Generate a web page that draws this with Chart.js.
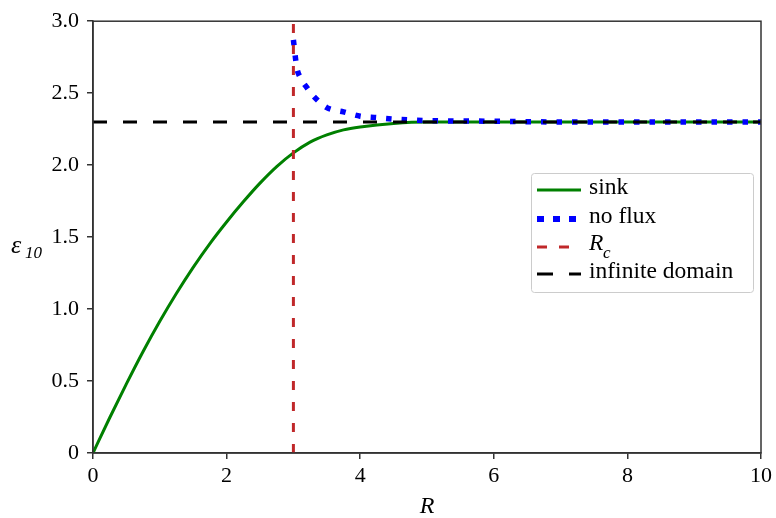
<!DOCTYPE html>
<html>
<head>
<meta charset="utf-8">
<script src="https://cdn.jsdelivr.net/npm/chart.js@4/dist/chart.umd.min.js"></script>
<style>
  html, body { margin: 0; padding: 0; background: #fff; }
  #wrap { width: 776px; height: 518px; }
</style>
</head>
<body>
<div id="wrap"><canvas id="plot"></canvas></div>
<script>
// values
var sinkR = [0, 0.25, 0.5, 0.75, 1, 1.25, 1.5, 1.75, 2, 2.25, 2.5, 2.75, 3, 3.25, 3.5, 3.75, 4, 4.5, 5, 6, 7, 8, 9, 10];
var sinkE = [0, 0.245, 0.48, 0.705, 0.915, 1.11, 1.29, 1.455, 1.605, 1.745, 1.875, 1.99, 2.085, 2.16, 2.21, 2.245, 2.265, 2.29, 2.30, 2.30, 2.30, 2.30, 2.30, 2.30];
var fluxR = [3.0, 3.05, 3.1, 3.2, 3.3, 3.5, 3.75, 4, 4.25, 4.5, 5, 6, 7, 8, 9, 10];
var fluxE = [2.87, 2.68, 2.61, 2.54, 2.48, 2.40, 2.37, 2.34, 2.33, 2.32, 2.31, 2.305, 2.30, 2.30, 2.30, 2.30];
var rcR = [3, 3];
var rcE = [0, 3];
var infR = [0, 10];
var infE = [2.30, 2.30];
var legendLabels = ["sink", "no flux", "R_c", "infinite domain"];

function pts(xs, ys) {
    return xs.map(function (x, i) { return { x: x, y: ys[i] }; });
}

var serif = "'Liberation Serif', 'DejaVu Serif', serif";

var extras = {
    id: 'extras',
    afterDraw: function (chart) {
        var ctx = chart.ctx, a = chart.chartArea;
        ctx.save();
        // top/right spines
        ctx.strokeStyle = '#333';
        ctx.lineWidth = 1.5;
        ctx.strokeRect(a.left, a.top, a.right - a.left, a.bottom - a.top);

        // axis titles
        ctx.fillStyle = '#000';
        ctx.textBaseline = 'alphabetic';
        ctx.font = 'italic 24px ' + serif;
        ctx.textAlign = 'center';
        ctx.fillText('R', 427, 513);
        ctx.textAlign = 'left';
        ctx.font = 'italic 26px ' + serif;
        ctx.fillText('\u03b5', 11, 253);
        ctx.font = 'italic 17px ' + serif;
        ctx.fillText('10', 25, 258);

        // legend
        var bx = 531, by = 173, bw = 222, bh = 119;
        ctx.fillStyle = 'rgba(255,255,255,0.8)';
        ctx.strokeStyle = '#cccccc';
        ctx.lineWidth = 1;
        ctx.beginPath();
        ctx.roundRect(bx + 0.5, by + 0.5, bw, bh, 3);
        ctx.fill();
        ctx.stroke();
        var rows = [190, 219, 247, 274];
        chart.data.datasets.forEach(function (ds, i) {
            var y = rows[i];
            ctx.strokeStyle = ds.borderColor;
            ctx.lineWidth = ds.legendWidth || ds.borderWidth;
            ctx.setLineDash(ds.legendDash || []);
            ctx.beginPath();
            ctx.moveTo(537, y);
            ctx.lineTo(581, y);
            ctx.stroke();
            ctx.setLineDash([]);
            ctx.fillStyle = '#000';
            ctx.textAlign = 'left';
            ctx.textBaseline = 'middle';
            var lbl = legendLabels[i];
            if (lbl === 'R_c') {
                ctx.font = 'italic 23.5px ' + serif;
                ctx.fillText('R', 589, y - 3);
                ctx.font = 'italic 17px ' + serif;
                ctx.fillText('c', 603, y + 7);
            } else {
                ctx.font = '23.5px ' + serif;
                ctx.fillText(lbl, 589, y - 2);
            }
        });
        ctx.restore();
    }
};

new Chart(document.getElementById('plot'), {
    type: 'line',
    data: {
        datasets: [
            {
                label: 'sink',
                data: pts(sinkR, sinkE),
                borderColor: '#008000',
                borderWidth: 3,
                pointRadius: 0,
                cubicInterpolationMode: 'monotone',
                order: 4
            },
            {
                label: 'no flux',
                data: pts(fluxR, fluxE),
                borderColor: '#0000ff',
                borderWidth: 5.5,
                borderDash: [5.5, 10],
                legendDash: [7, 9],
                legendWidth: 6,
                pointRadius: 0,
                cubicInterpolationMode: 'monotone',
                order: 3
            },
            {
                label: 'R_c',
                data: pts(rcR, rcE),
                borderColor: '#c0282a',
                borderWidth: 3,
                borderDash: [9, 12],
                legendDash: [10, 12],
                pointRadius: 0,
                order: 2
            },
            {
                label: 'infinite domain',
                data: pts(infR, infE),
                borderColor: '#000000',
                borderWidth: 3,
                borderDash: [14, 16],
                legendDash: [16, 16],
                pointRadius: 0,
                order: 1
            }
        ]
    },
    options: {
        responsive: true,
        maintainAspectRatio: false,
        animation: false,
        layout: { padding: { top: 18, right: 11, left: 0, bottom: 0 } },
        plugins: {
            legend: { display: false },
            tooltip: { enabled: false }
        },
        scales: {
            x: {
                type: 'linear',
                min: 0,
                max: 10,
                afterFit: function (s) { s.height = 65; },
                ticks: {
                    stepSize: 2,
                    color: '#000',
                    padding: 4,
                    maxRotation: 0,
                    font: { family: serif, size: 22 }
                },
                grid: { drawOnChartArea: false, tickLength: 6, color: '#333', lineWidth: 1.5 },
                border: { color: '#333', width: 1.5 }
            },
            y: {
                min: 0,
                max: 3,
                afterFit: function (s) { s.width = 93; },
                ticks: {
                    stepSize: 0.5,
                    color: '#000',
                    padding: 8,
                    font: { family: serif, size: 22 },
                    callback: function (v) { return v === 0 ? '0' : v.toFixed(1); }
                },
                grid: { drawOnChartArea: false, tickLength: 6, color: '#333', lineWidth: 1.5 },
                border: { color: '#333', width: 1.5 }
            }
        }
    },
    plugins: [extras]
});
</script>
</body>
</html>
